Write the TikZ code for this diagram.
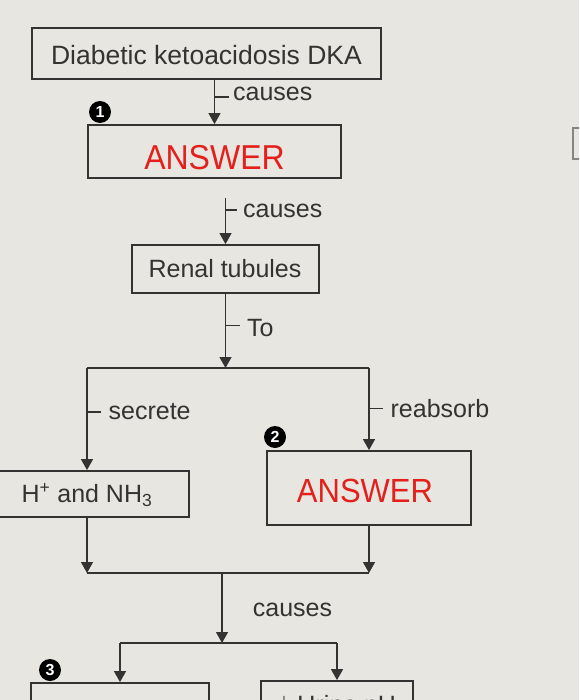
\documentclass[tikz,border=0pt]{standalone}
\usepackage{fontspec}
\setmainfont{Liberation Sans}
\usetikzlibrary{arrows.meta,calc}
\definecolor{bg}{HTML}{E8E6E1}
\definecolor{ink}{HTML}{333331}
\definecolor{ansred}{HTML}{E3201B}
\begin{document}
\begin{tikzpicture}[x=1pt,y=-1pt,
  box/.style={draw=ink, line width=1.8pt, inner sep=0pt, text=ink},
  arr/.style={draw=ink, line width=1.3pt, -{Triangle[width=12pt,length=11pt]}},
  ln/.style={draw=ink, line width=1.3pt},
  lbl/.style={anchor=west, inner sep=0pt, text=ink, font=\fontsize{25}{28}\selectfont},
  txt/.style={inner sep=0pt, text=ink, font=\fontsize{25}{28}\selectfont},
  badge/.style={circle, fill=black, text=white, inner sep=0pt, minimum size=22pt, font=\bfseries\fontsize{16}{16}\selectfont},
  ans/.style={inner sep=0pt, text=ansred, font=\fontsize{32}{36}\selectfont}
]
\useasboundingbox (0,0) rectangle (579,700);
\fill[bg] (0,0) rectangle (579,700);
\clip (0,0) rectangle (579,700);

% boxes
\node[box, minimum width=349pt, minimum height=51pt] (dka) at (206.5,53.5) {};
\node[txt, font=\fontsize{26.5}{30}\selectfont] (dkat) at (206.5,55) {Diabetic ketoacidosis DKA};

\node[box, minimum width=253pt, minimum height=53pt] (ans1) at (214.5,151.5) {};
\node[ans, yscale=1.08] (ans1t) at (214.5,157.5) {ANSWER};

\node[box, minimum width=187pt, minimum height=48pt] (renal) at (225.5,269) {};
\node[txt] (renalt) at (225,269) {Renal tubules};

\node[box, minimum width=204pt, minimum height=46pt] (hnh) at (87,494) {};
\node[txt] (hnht) at (87,495) {H\textsuperscript{+} and NH\textsubscript{3}};

\node[box, minimum width=204pt, minimum height=74pt] (ans2) at (369,488) {};
\node[ans, font=\fontsize{31}{35}\selectfont, yscale=1.08] (ans2t) at (365,490.5) {ANSWER};

\node[box, minimum width=178pt, minimum height=50pt] (bl) at (120,708) {};
\node[box, minimum width=152pt, minimum height=50pt] (br) at (337,706) {};
\node[txt] (brt) at (337,707) {$\downarrow$ Urine pH};

% junctions
\coordinate (j1) at (225.5,368);
\coordinate (j2) at (222,573);
\coordinate (j3) at (222,643);

% connectors
\draw[arr] (dka.south -| ans1.north) -- coordinate[pos=0.39] (t1) (ans1.north);
\draw[ln] (t1) -- ++(14,0) node[lbl, xshift=4pt, yshift=3pt] (l1) {causes};

\draw[arr] ([yshift=46pt]renal.north) -- coordinate[pos=0.26] (t2) (renal.north);
\draw[ln] (t2) -- ++(11,0) node[lbl, xshift=6pt, yshift=-1pt] (l2) {causes};

\draw[arr] (renal.south) -- coordinate[pos=0.43] (t3) (j1);
\draw[ln] (t3) -- ++(14,0) node[lbl, xshift=7pt, yshift=-2pt] (l3) {To};

\draw[ln] (hnh.north |- j1) -- (ans2.north |- j1);
\draw[arr] (hnh.north |- j1) -- coordinate[pos=0.43] (t4) (hnh.north);
\draw[ln] (t4) -- ++(14,0) node[lbl, xshift=7pt] (l4) {secrete};
\draw[arr] (ans2.north |- j1) -- coordinate[pos=0.49] (t5) (ans2.north);
\draw[ln] (t5) -- ++(14,0) node[lbl, xshift=7pt] (l5) {reabsorb};

\draw[arr] (hnh.south) -- (hnh.south |- j2);
\draw[arr] (ans2.south) -- (ans2.south |- j2);
\draw[ln] (hnh.south |- j2) -- (ans2.south |- j2);
\draw[arr] (j2) -- (j3);
\node[txt] (l6) at (292.5,610) {causes};

\draw[ln] (bl.north |- j3) -- (br.north |- j3);
\draw[arr] (bl.north |- j3) -- (bl.north);
\draw[arr] (br.north |- j3) -- (br.north);

% badges
\node[badge] (b1) at (100,112) {1};
\node[badge] (b2) at (275,437) {2};
\node[badge] (b3) at (50,670) {3};

% partial box at right edge
\draw[ink!60, line width=1.5pt] (595,128) -- (573,128) -- (573,159) -- (595,159);
\end{tikzpicture}
\end{document}
